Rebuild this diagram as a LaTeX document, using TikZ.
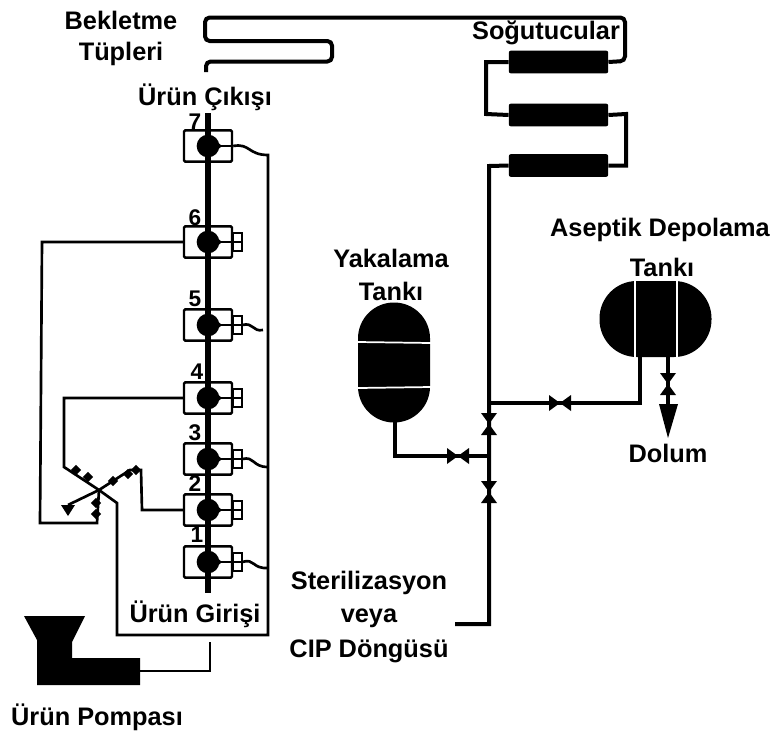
\documentclass[tikz,border=0pt]{standalone}
\usepackage{fontspec}
\setmainfont{Liberation Sans}
\usepackage{tikz}
\usetikzlibrary{calc,shapes.geometric}
\tikzset{
  jlabel/.style={font=\bfseries\fontsize{19}{21}\selectfont,inner sep=0pt},
  jnum/.style={font=\bfseries\fontsize{17}{19}\selectfont,inner sep=0pt},
  jpipe/.style={black,line width=3pt},
  jwire/.style={black,line width=2pt},
  jbody/.style={rectangle,draw=black,fill=white,line width=1.8pt,rounded corners=1pt,
    minimum width=36pt,minimum height=23.5pt,inner sep=0pt},
  jball/.style={circle,fill=black,minimum size=17pt,inner sep=0pt},
  jcooler/.style={rectangle,fill=black,rounded corners=1.5pt,
    minimum width=74.5pt,minimum height=17pt,inner sep=0pt},
  jtooth/.style={diamond,fill=black,inner sep=2pt},
}
\begin{document}
\begin{tikzpicture}[x=0.75pt,y=-0.75pt]
  \useasboundingbox (0,0) rectangle (773,736);
  % tubes and coolers
  \node[jcooler] (c1) at (558.5,62) {};
  \node[jcooler] (c2) at (558.5,115) {};
  \node[jcooler] (c3) at (558.5,165.5) {};
  \coordinate (tubeend) at (206,72);
  \draw[jpipe,rounded corners=3.5pt] (tubeend) -- (206,61.5) -- (332,61.5) -- (332,41)
    -- (205,41) -- (205,17.5) -- (625,17.5) -- (625,61) -- (c1.east);
  \draw[jpipe] (c1.west) -- (486,62) -- (486,114) -- (c2.west);
  \draw[jpipe] (c2.east) -- (626,114) -- (626,165.5) -- (c3.east);
  % tanks
  \node[rectangle,fill=black,rounded corners=26.9pt,minimum width=54pt,minimum height=90pt,
    inner sep=0pt] (ytank) at (394,362.5) {};
  \node[rectangle,fill=black,rounded corners=28pt,minimum width=84pt,minimum height=57pt,
    inner sep=0pt] (atank) at (655.5,319) {};
  \draw[white,line width=1.3pt] (358,342) -- (431,343);
  \draw[white,line width=1.3pt] (358,388) -- (431,387);
  \draw[white,line width=1.3pt] (635,280) -- (635,358);
  \draw[white,line width=1.3pt] (677,280) -- (677,358);
  % process line
  \coordinate (cj) at (489,403);
  \coordinate (yj) at (489,456);
  \coordinate (cipend) at (455,624);
  \coordinate (apipe) at (640,357);
  \coordinate (ypipe) at (395,422);
  \coordinate (dpipe) at (668,357);
  \coordinate (dtip) at (668,438);
  \coordinate (v1) at (489,424);
  \coordinate (v2) at (489,492);
  \coordinate (v3) at (668,384);
  \coordinate (h1) at (458,456);
  \coordinate (h2) at (560,403);
  \draw[jpipe] (c3.west) -- (489,166) -- (489,624) -- (cipend);
  \draw[jpipe] (cj) -- (640,403) -- (apipe);
  \draw[jpipe] (ypipe) -- (395,456) -- (yj);
  \draw[jpipe] (dpipe) -- (668,410);
  \foreach \n in {v1,v2,v3} {\fill ($(\n)+(-8,-11)$) -- ($(\n)+(8,-11)$) -- ($(\n)+(-8,11)$) -- ($(\n)+(8,11)$) -- cycle;}
  \foreach \n in {h1,h2} {\fill ($(\n)+(-11,-8)$) -- ($(\n)+(11,8)$) -- ($(\n)+(11,-8)$) -- ($(\n)+(-11,8)$) -- cycle;}
  \fill (659,404) -- (678,404) -- (dtip) -- cycle;
  % wires behind the valve bodies
  \coordinate (xv) at (99,490);
  \coordinate (xl) at (68,505);
  \coordinate (pumpout) at (210,642);
  % valve stack
  \foreach \n/\y in {7/146,6/242,5/325,4/398,3/459,2/510,1/562} {
    \node[jbody] (b\n) at (208,\y) {};
  }
  \foreach \n in {6,5,4,3,2,1} {
    \draw[jwire,line width=1.6pt,fill=white] ($(b\n.east)+(0,-9)$) rectangle ($(b\n.east)+(9,0)$);
    \draw[jwire,line width=1.6pt,fill=white] ($(b\n.east)+(0,0)$) rectangle ($(b\n.east)+(9,9)$);
  }
  \draw[black,line width=5pt] (208,113) -- (208,593);
  \foreach \n/\y in {7/146,6/242,5/325,4/398,3/459,2/510,1/562} {
    \node[jball] (g\n) at (208,\y) {};
    \fill (208,\y-12) -- (222,\y) -- (208,\y+12) -- cycle;
    \draw[jwire] (g\n.center) -- (b\n.east);
  }
  \draw[jwire] (b7.east) .. controls (250,143) and (248,155) .. (268,155) -- (268,635)
    -- (117,635) -- (117,503) -- (xv);
  \draw[jwire] ($(b5.east)+(9,0)$) .. controls (254,322) and (252,332) .. (263,330);
  \draw[jwire] ($(b3.east)+(9,0)$) .. controls (255,456) and (252,467) .. (268,467);
  \draw[jwire] ($(b1.east)+(9,0)$) .. controls (255,558) and (252,569) .. (268,568);
  \draw[jwire] (b6.west) -- (42,242) -- (40,523) -- (97,523) -- (xv);
  \draw[jwire] (b4.west) -- (64,398) -- (64,467) -- (xv);
  \draw[jwire] (b2.west) -- (142,510) -- (141,470) -- (130,470) -- (xv) -- (xl);
  \foreach \x/\y in {76/470,88/477,113/481,128/474,136/470,96/503,96/514} {
    \node[jtooth] (t\x) at (\x,\y) {};
  }
  \fill (61,505) -- (75,505) -- (68,516) -- cycle;
  % pump
  \fill (24,616) -- (85,616) -- (72,642) -- (72,658) -- (140,658) -- (140,685) -- (37,685)
    -- (37,640) -- cycle;
  \draw[jwire] (140,671) -- (210,671) -- (pumpout);
  % labels
  \node[jlabel] (lbek) at (121,20) {Bekletme};
  \node[jlabel] (ltup) at (121,54) {Tüpleri};
  \node[jlabel] (lcik) at (205,97) {Ürün Çıkışı};
  \node[jlabel] (lsog) at (546,33) {Soğutucular};
  \node[jlabel] (lase) at (660,230) {Aseptik Depolama};
  \node[jlabel] (ltan) at (662,267) {Tankı};
  \node[jlabel] (lyak) at (391,258) {Yakalama};
  \node[jlabel] (lyta) at (391,291) {Tankı};
  \node[jlabel] (ldol) at (668,453) {Dolum};
  \node[jlabel] (lste) at (369,583) {Sterilizasyon};
  \node[jlabel] (lvey) at (369,618) {veya};
  \node[jlabel] (lcip) at (369,651) {CIP Döngüsü};
  \node[jlabel] (lgir) at (195,614) {Ürün Girişi};
  \node[jlabel] (lpom) at (97,717) {Ürün Pompası};
  \node[jnum] (n7) at (195,122) {7};
  \node[jnum] (n6) at (195,218) {6};
  \node[jnum] (n5) at (195,299) {5};
  \node[jnum] (n4) at (197,372) {4};
  \node[jnum] (n3) at (195,433) {3};
  \node[jnum] (n2) at (195,484) {2};
  \node[jnum] (n1) at (197,535) {1};
\end{tikzpicture}
\end{document}
